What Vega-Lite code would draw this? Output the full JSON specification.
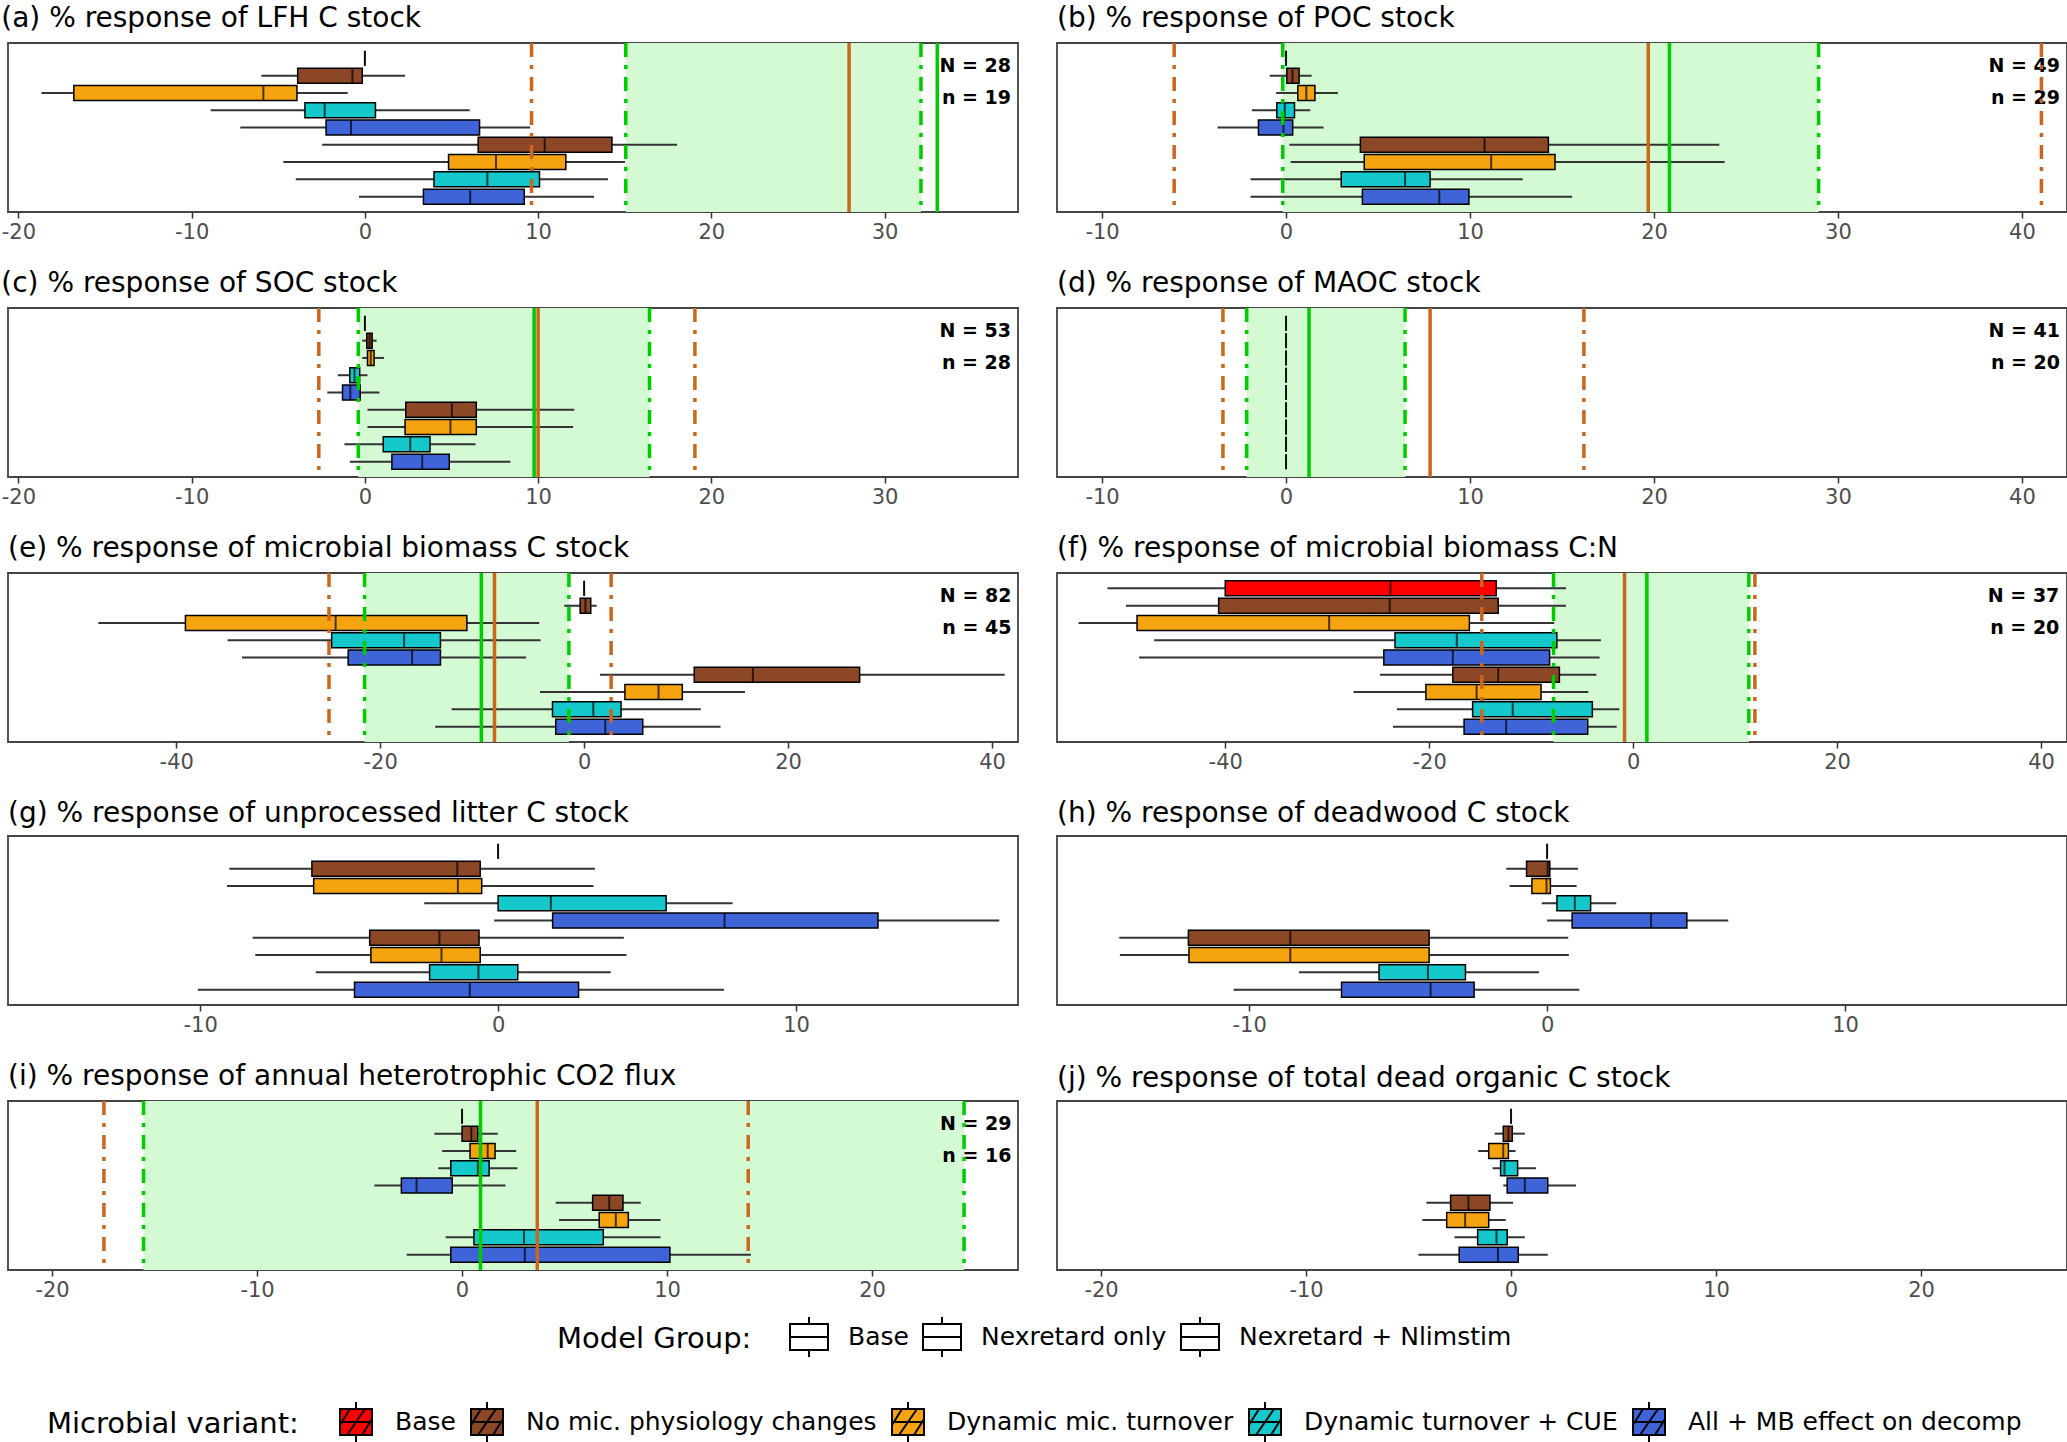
{
"$schema": "https://vega.github.io/schema/vega-lite/v6.json",
"padding": {"left": 0, "top": 4, "right": 0, "bottom": 0},
"columns": 2,
"spacing": {"column": 37, "row": 26},
"datasets": {
"boxes": [
{"panel":"a","row":1,"variant":"Base","group":"Base","low":0,"q1":0,"median":0,"q3":0,"high":0},
{"panel":"a","row":2,"variant":"No mic. physiology changes","group":"Nexretard only","low":-5.97,"q1":-3.88,"median":-0.72,"q3":-0.15,"high":2.32},
{"panel":"a","row":3,"variant":"Dynamic mic. turnover","group":"Nexretard only","low":-18.67,"q1":-16.8,"median":-5.86,"q3":-3.92,"high":-0.99},
{"panel":"a","row":4,"variant":"Dynamic turnover + CUE","group":"Nexretard only","low":-8.9,"q1":-3.46,"median":-2.32,"q3":0.61,"high":6.05},
{"panel":"a","row":5,"variant":"All + MB effect on decomp","group":"Nexretard only","low":-7.19,"q1":-2.24,"median":-0.8,"q3":6.62,"high":9.54},
{"panel":"a","row":6,"variant":"No mic. physiology changes","group":"Nexretard + Nlimstim","low":-2.47,"q1":6.54,"median":10.38,"q3":14.26,"high":18.02},
{"panel":"a","row":7,"variant":"Dynamic mic. turnover","group":"Nexretard + Nlimstim","low":-4.71,"q1":4.83,"median":7.57,"q3":11.6,"high":15.02},
{"panel":"a","row":8,"variant":"Dynamic turnover + CUE","group":"Nexretard + Nlimstim","low":-3.99,"q1":3.99,"median":7.07,"q3":10.08,"high":14.03},
{"panel":"a","row":9,"variant":"All + MB effect on decomp","group":"Nexretard + Nlimstim","low":-0.34,"q1":3.38,"median":6.08,"q3":9.2,"high":13.23},
{"panel":"b","row":1,"variant":"Base","group":"Base","low":0,"q1":0,"median":0,"q3":0,"high":0},
{"panel":"b","row":2,"variant":"No mic. physiology changes","group":"Nexretard only","low":-0.89,"q1":0.04,"median":0.35,"q3":0.71,"high":1.39},
{"panel":"b","row":3,"variant":"Dynamic mic. turnover","group":"Nexretard only","low":-0.54,"q1":0.64,"median":1.1,"q3":1.57,"high":2.82},
{"panel":"b","row":4,"variant":"Dynamic turnover + CUE","group":"Nexretard only","low":-1.86,"q1":-0.5,"median":-0.07,"q3":0.46,"high":1.32},
{"panel":"b","row":5,"variant":"All + MB effect on decomp","group":"Nexretard only","low":-3.72,"q1":-1.5,"median":-0.14,"q3":0.36,"high":2.04},
{"panel":"b","row":6,"variant":"No mic. physiology changes","group":"Nexretard + Nlimstim","low":0.18,"q1":4.04,"median":10.79,"q3":14.26,"high":23.55},
{"panel":"b","row":7,"variant":"Dynamic mic. turnover","group":"Nexretard + Nlimstim","low":0.25,"q1":4.25,"median":11.15,"q3":14.62,"high":23.84},
{"panel":"b","row":8,"variant":"Dynamic turnover + CUE","group":"Nexretard + Nlimstim","low":-1.93,"q1":3.0,"median":6.47,"q3":7.83,"high":12.87},
{"panel":"b","row":9,"variant":"All + MB effect on decomp","group":"Nexretard + Nlimstim","low":-1.93,"q1":4.15,"median":8.33,"q3":9.94,"high":15.55},
{"panel":"c","row":1,"variant":"Base","group":"Base","low":0,"q1":0,"median":0,"q3":0,"high":0},
{"panel":"c","row":2,"variant":"No mic. physiology changes","group":"Nexretard only","low":-0.15,"q1":0.11,"median":0.27,"q3":0.42,"high":0.68},
{"panel":"c","row":3,"variant":"Dynamic mic. turnover","group":"Nexretard only","low":-0.15,"q1":0.15,"median":0.34,"q3":0.53,"high":1.1},
{"panel":"c","row":4,"variant":"Dynamic turnover + CUE","group":"Nexretard only","low":-1.56,"q1":-0.87,"median":-0.6,"q3":-0.3,"high":0.15},
{"panel":"c","row":5,"variant":"All + MB effect on decomp","group":"Nexretard only","low":-2.17,"q1":-1.29,"median":-0.84,"q3":-0.27,"high":0.84},
{"panel":"c","row":6,"variant":"No mic. physiology changes","group":"Nexretard + Nlimstim","low":0.15,"q1":2.36,"median":5.02,"q3":6.43,"high":12.09},
{"panel":"c","row":7,"variant":"Dynamic mic. turnover","group":"Nexretard + Nlimstim","low":0.15,"q1":2.32,"median":4.94,"q3":6.43,"high":12.02},
{"panel":"c","row":8,"variant":"Dynamic turnover + CUE","group":"Nexretard + Nlimstim","low":-1.18,"q1":1.06,"median":2.62,"q3":3.76,"high":6.39},
{"panel":"c","row":9,"variant":"All + MB effect on decomp","group":"Nexretard + Nlimstim","low":-0.87,"q1":1.56,"median":3.31,"q3":4.87,"high":8.4},
{"panel":"d","row":1,"variant":"Base","group":"Base","low":0,"q1":0,"median":0,"q3":0,"high":0},
{"panel":"d","row":2,"variant":"No mic. physiology changes","group":"Nexretard only","low":0,"q1":0,"median":0,"q3":0,"high":0},
{"panel":"d","row":3,"variant":"Dynamic mic. turnover","group":"Nexretard only","low":0,"q1":0,"median":0,"q3":0,"high":0},
{"panel":"d","row":4,"variant":"Dynamic turnover + CUE","group":"Nexretard only","low":0,"q1":0,"median":0,"q3":0,"high":0},
{"panel":"d","row":5,"variant":"All + MB effect on decomp","group":"Nexretard only","low":0,"q1":0,"median":0,"q3":0,"high":0.05},
{"panel":"d","row":6,"variant":"No mic. physiology changes","group":"Nexretard + Nlimstim","low":0,"q1":0,"median":0,"q3":0,"high":0.05},
{"panel":"d","row":7,"variant":"Dynamic mic. turnover","group":"Nexretard + Nlimstim","low":0,"q1":0,"median":0,"q3":0,"high":0.05},
{"panel":"d","row":8,"variant":"Dynamic turnover + CUE","group":"Nexretard + Nlimstim","low":0,"q1":0,"median":0,"q3":0,"high":0},
{"panel":"d","row":9,"variant":"All + MB effect on decomp","group":"Nexretard + Nlimstim","low":0,"q1":0,"median":0,"q3":0,"high":0},
{"panel":"e","row":1,"variant":"Base","group":"Base","low":0,"q1":0,"median":0,"q3":0,"high":0},
{"panel":"e","row":2,"variant":"No mic. physiology changes","group":"Nexretard only","low":-1.94,"q1":-0.39,"median":0.13,"q3":0.65,"high":1.23},
{"panel":"e","row":3,"variant":"Dynamic mic. turnover","group":"Nexretard only","low":-47.64,"q1":-39.1,"median":-24.37,"q3":-11.5,"high":-4.4},
{"panel":"e","row":4,"variant":"Dynamic turnover + CUE","group":"Nexretard only","low":-34.97,"q1":-24.76,"median":-17.65,"q3":-14.09,"high":-4.27},
{"panel":"e","row":5,"variant":"All + MB effect on decomp","group":"Nexretard only","low":-33.55,"q1":-23.14,"median":-16.87,"q3":-14.09,"high":-5.69},
{"panel":"e","row":6,"variant":"No mic. physiology changes","group":"Nexretard + Nlimstim","low":1.55,"q1":10.8,"median":16.55,"q3":27.02,"high":41.24},
{"panel":"e","row":7,"variant":"Dynamic mic. turnover","group":"Nexretard + Nlimstim","low":-4.33,"q1":4.0,"median":7.3,"q3":9.63,"high":15.77},
{"panel":"e","row":8,"variant":"Dynamic turnover + CUE","group":"Nexretard + Nlimstim","low":-12.99,"q1":-3.1,"median":0.9,"q3":3.62,"high":11.44},
{"panel":"e","row":9,"variant":"All + MB effect on decomp","group":"Nexretard + Nlimstim","low":-14.61,"q1":-2.78,"median":2.07,"q3":5.75,"high":13.38},
{"panel":"f","row":1,"variant":"Base","group":"Base","low":-51.55,"q1":-40.0,"median":-23.8,"q3":-13.42,"high":-6.58},
{"panel":"f","row":2,"variant":"No mic. physiology changes","group":"Nexretard only","low":-49.74,"q1":-40.65,"median":-23.87,"q3":-13.23,"high":-6.58},
{"panel":"f","row":3,"variant":"Dynamic mic. turnover","group":"Nexretard only","low":-54.39,"q1":-48.65,"median":-29.81,"q3":-16.06,"high":-7.74},
{"panel":"f","row":4,"variant":"Dynamic turnover + CUE","group":"Nexretard only","low":-46.97,"q1":-23.35,"median":-17.29,"q3":-7.48,"high":-3.16},
{"panel":"f","row":5,"variant":"All + MB effect on decomp","group":"Nexretard only","low":-48.45,"q1":-24.45,"median":-17.68,"q3":-8.19,"high":-3.29},
{"panel":"f","row":6,"variant":"No mic. physiology changes","group":"Nexretard + Nlimstim","low":-24.84,"q1":-17.68,"median":-13.23,"q3":-7.23,"high":-3.61},
{"panel":"f","row":7,"variant":"Dynamic mic. turnover","group":"Nexretard + Nlimstim","low":-27.42,"q1":-20.32,"median":-15.35,"q3":-9.03,"high":-4.39},
{"panel":"f","row":8,"variant":"Dynamic turnover + CUE","group":"Nexretard + Nlimstim","low":-23.16,"q1":-15.74,"median":-11.81,"q3":-4.0,"high":-1.35},
{"panel":"f","row":9,"variant":"All + MB effect on decomp","group":"Nexretard + Nlimstim","low":-23.55,"q1":-16.58,"median":-12.45,"q3":-4.45,"high":-1.61},
{"panel":"g","row":1,"variant":"Base","group":"Base","low":0,"q1":0,"median":0,"q3":0,"high":0},
{"panel":"g","row":2,"variant":"No mic. physiology changes","group":"Nexretard only","low":-9.02,"q1":-6.25,"median":-1.37,"q3":-0.6,"high":3.25},
{"panel":"g","row":3,"variant":"Dynamic mic. turnover","group":"Nexretard only","low":-9.1,"q1":-6.19,"median":-1.35,"q3":-0.55,"high":3.2},
{"panel":"g","row":4,"variant":"Dynamic turnover + CUE","group":"Nexretard only","low":-2.48,"q1":0,"median":1.77,"q3":5.64,"high":7.87},
{"panel":"g","row":5,"variant":"All + MB effect on decomp","group":"Nexretard only","low":-0.13,"q1":1.83,"median":7.6,"q3":12.75,"high":16.82},
{"panel":"g","row":6,"variant":"No mic. physiology changes","group":"Nexretard + Nlimstim","low":-8.24,"q1":-4.31,"median":-1.97,"q3":-0.64,"high":4.22},
{"panel":"g","row":7,"variant":"Dynamic mic. turnover","group":"Nexretard + Nlimstim","low":-8.15,"q1":-4.27,"median":-1.9,"q3":-0.6,"high":4.31},
{"panel":"g","row":8,"variant":"Dynamic turnover + CUE","group":"Nexretard + Nlimstim","low":-6.12,"q1":-2.3,"median":-0.66,"q3":0.66,"high":3.78},
{"panel":"g","row":9,"variant":"All + MB effect on decomp","group":"Nexretard + Nlimstim","low":-10.08,"q1":-4.82,"median":-0.95,"q3":2.7,"high":7.58},
{"panel":"h","row":1,"variant":"Base","group":"Base","low":0,"q1":0,"median":0,"q3":0,"high":0},
{"panel":"h","row":2,"variant":"No mic. physiology changes","group":"Nexretard only","low":-1.37,"q1":-0.69,"median":0.02,"q3":0.09,"high":1.04},
{"panel":"h","row":3,"variant":"Dynamic mic. turnover","group":"Nexretard only","low":-1.26,"q1":-0.51,"median":-0.02,"q3":0.11,"high":0.99},
{"panel":"h","row":4,"variant":"Dynamic turnover + CUE","group":"Nexretard only","low":-0.18,"q1":0.33,"median":0.93,"q3":1.46,"high":2.32},
{"panel":"h","row":5,"variant":"All + MB effect on decomp","group":"Nexretard only","low":0,"q1":0.84,"median":3.49,"q3":4.69,"high":6.08},
{"panel":"h","row":6,"variant":"No mic. physiology changes","group":"Nexretard + Nlimstim","low":-14.36,"q1":-12.04,"median":-8.62,"q3":-3.96,"high":0.71},
{"panel":"h","row":7,"variant":"Dynamic mic. turnover","group":"Nexretard + Nlimstim","low":-14.34,"q1":-12.02,"median":-8.62,"q3":-3.96,"high":0.73},
{"panel":"h","row":8,"variant":"Dynamic turnover + CUE","group":"Nexretard + Nlimstim","low":-8.33,"q1":-5.64,"median":-4.0,"q3":-2.74,"high":-0.27},
{"panel":"h","row":9,"variant":"All + MB effect on decomp","group":"Nexretard + Nlimstim","low":-10.52,"q1":-6.9,"median":-3.91,"q3":-2.45,"high":1.08},
{"panel":"i","row":1,"variant":"Base","group":"Base","low":0,"q1":0,"median":0,"q3":0,"high":0},
{"panel":"i","row":2,"variant":"No mic. physiology changes","group":"Nexretard only","low":-1.35,"q1":0,"median":0.45,"q3":0.77,"high":1.74},
{"panel":"i","row":3,"variant":"Dynamic mic. turnover","group":"Nexretard only","low":-0.97,"q1":0.39,"median":1.25,"q3":1.61,"high":2.64},
{"panel":"i","row":4,"variant":"Dynamic turnover + CUE","group":"Nexretard only","low":-1.16,"q1":-0.55,"median":0.77,"q3":1.32,"high":2.7},
{"panel":"i","row":5,"variant":"All + MB effect on decomp","group":"Nexretard only","low":-4.28,"q1":-2.96,"median":-2.22,"q3":-0.48,"high":2.12},
{"panel":"i","row":6,"variant":"No mic. physiology changes","group":"Nexretard + Nlimstim","low":4.57,"q1":6.37,"median":7.18,"q3":7.85,"high":8.72},
{"panel":"i","row":7,"variant":"Dynamic mic. turnover","group":"Nexretard + Nlimstim","low":4.73,"q1":6.69,"median":7.5,"q3":8.11,"high":9.68},
{"panel":"i","row":8,"variant":"Dynamic turnover + CUE","group":"Nexretard + Nlimstim","low":-0.8,"q1":0.58,"median":3.02,"q3":6.89,"high":9.68},
{"panel":"i","row":9,"variant":"All + MB effect on decomp","group":"Nexretard + Nlimstim","low":-2.7,"q1":-0.55,"median":3.06,"q3":10.14,"high":14.09},
{"panel":"j","row":1,"variant":"Base","group":"Base","low":0,"q1":0,"median":0,"q3":0,"high":0},
{"panel":"j","row":2,"variant":"No mic. physiology changes","group":"Nexretard only","low":-0.8,"q1":-0.38,"median":-0.13,"q3":0.06,"high":0.67},
{"panel":"j","row":3,"variant":"Dynamic mic. turnover","group":"Nexretard only","low":-1.6,"q1":-1.09,"median":-0.38,"q3":-0.13,"high":0.22},
{"panel":"j","row":4,"variant":"Dynamic turnover + CUE","group":"Nexretard only","low":-0.9,"q1":-0.51,"median":-0.32,"q3":0.32,"high":1.22},
{"panel":"j","row":5,"variant":"All + MB effect on decomp","group":"Nexretard only","low":-0.38,"q1":-0.19,"median":0.67,"q3":1.79,"high":3.17},
{"panel":"j","row":6,"variant":"No mic. physiology changes","group":"Nexretard + Nlimstim","low":-4.13,"q1":-2.95,"median":-2.08,"q3":-1.03,"high":0.1},
{"panel":"j","row":7,"variant":"Dynamic mic. turnover","group":"Nexretard + Nlimstim","low":-4.33,"q1":-3.14,"median":-2.24,"q3":-1.09,"high":-0.26},
{"panel":"j","row":8,"variant":"Dynamic turnover + CUE","group":"Nexretard + Nlimstim","low":-2.76,"q1":-1.63,"median":-0.71,"q3":-0.19,"high":0.67},
{"panel":"j","row":9,"variant":"All + MB effect on decomp","group":"Nexretard + Nlimstim","low":-4.52,"q1":-2.53,"median":-0.64,"q3":0.35,"high":1.79}
],
"bands": [
{"panel":"a","low":15.06,"high":32.1},
{"panel":"b","low":-0.18,"high":28.95},
{"panel":"c","low":-0.38,"high":16.43},
{"panel":"d","low":-2.14,"high":6.47},
{"panel":"e","low":-21.53,"high":-1.49},
{"panel":"f","low":-7.81,"high":11.35},
{"panel":"i","low":-15.54,"high":24.49}
],
"lines": [
{"panel":"a","kind":"obs_mean","value":27.95},
{"panel":"a","kind":"obs_ci","value":9.62},
{"panel":"a","kind":"mod_mean","value":33.04},
{"panel":"a","kind":"mod_ci","value":15.06},
{"panel":"a","kind":"mod_ci","value":32.1},
{"panel":"b","kind":"obs_mean","value":19.69},
{"panel":"b","kind":"obs_ci","value":-6.08},
{"panel":"b","kind":"obs_ci","value":41.06},
{"panel":"b","kind":"mod_mean","value":20.84},
{"panel":"b","kind":"mod_ci","value":-0.18},
{"panel":"b","kind":"mod_ci","value":28.95},
{"panel":"c","kind":"mod_mean","value":9.77},
{"panel":"c","kind":"obs_mean","value":10.0},
{"panel":"c","kind":"obs_ci","value":-2.66},
{"panel":"c","kind":"obs_ci","value":19.05},
{"panel":"c","kind":"mod_ci","value":-0.38},
{"panel":"c","kind":"mod_ci","value":16.43},
{"panel":"d","kind":"obs_mean","value":7.83},
{"panel":"d","kind":"obs_ci","value":-3.43},
{"panel":"d","kind":"obs_ci","value":16.19},
{"panel":"d","kind":"mod_mean","value":1.25},
{"panel":"d","kind":"mod_ci","value":-2.14},
{"panel":"d","kind":"mod_ci","value":6.47},
{"panel":"e","kind":"obs_mean","value":-8.79},
{"panel":"e","kind":"obs_ci","value":-25.02},
{"panel":"e","kind":"obs_ci","value":2.65},
{"panel":"e","kind":"mod_mean","value":-10.08},
{"panel":"e","kind":"mod_ci","value":-21.53},
{"panel":"e","kind":"mod_ci","value":-1.49},
{"panel":"f","kind":"obs_mean","value":-0.84},
{"panel":"f","kind":"obs_ci","value":-14.84},
{"panel":"f","kind":"obs_ci","value":11.94},
{"panel":"f","kind":"mod_mean","value":1.35},
{"panel":"f","kind":"mod_ci","value":-7.81},
{"panel":"f","kind":"mod_ci","value":11.35},
{"panel":"i","kind":"obs_mean","value":3.67},
{"panel":"i","kind":"obs_ci","value":-17.47},
{"panel":"i","kind":"obs_ci","value":13.96},
{"panel":"i","kind":"mod_mean","value":0.9},
{"panel":"i","kind":"mod_ci","value":-15.54},
{"panel":"i","kind":"mod_ci","value":24.49}
],
"labels": [
{"panel":"a","label":"N = 28","x":37.3,"y":1.43},
{"panel":"a","label":"n = 19","x":37.3,"y":3.32},
{"panel":"b","label":"N = 49","x":42.07,"y":1.43},
{"panel":"b","label":"n = 29","x":42.07,"y":3.32},
{"panel":"c","label":"N = 53","x":37.3,"y":1.43},
{"panel":"c","label":"n = 28","x":37.3,"y":3.32},
{"panel":"d","label":"N = 41","x":42.07,"y":1.43},
{"panel":"d","label":"n = 20","x":42.07,"y":3.32},
{"panel":"e","label":"N = 82","x":41.9,"y":1.43},
{"panel":"e","label":"n = 45","x":41.9,"y":3.32},
{"panel":"f","label":"N = 37","x":41.8,"y":1.43},
{"panel":"f","label":"n = 20","x":41.8,"y":3.32},
{"panel":"i","label":"N = 29","x":26.8,"y":1.43},
{"panel":"i","label":"n = 16","x":26.8,"y":3.32}
]
},
"concat": [
{"title":"(a) % response of LFH C stock","width":1010,"height":169,"layer":[
{"data":{"name":"boxes"},"transform":[{"filter":"datum.panel==='a'"}],"mark":{"type":"bar","clip":true,"orient":"horizontal","size":15,"stroke":"black","strokeWidth":2},"encoding":{"x":{"field":"q1","type":"quantitative","title":null},"x2":{"field":"q3"},"y":{"datum":60,"type":"quantitative","axis":null},"color":{"field":"group","type":"nominal","scale":{"domain":["Base","Nexretard only","Nexretard + Nlimstim"],"range":["#FFFFFF","#FFFFFF","#FFFFFF"]},"legend":{"title":"Model Group:","symbolType":"M-0.95,-0.65H0.95V0.65H-0.95Z M0,-0.65V-1 M0,0.65V1 M-0.95,0H0.95","symbolStrokeColor":"black","symbolStrokeWidth":2,"symbolSize":1600,"symbolOpacity":1}}}},
{"data":{"name":"bands"},"transform":[{"filter":"datum.panel==='a'"}],"mark":{"type":"rect","color":"#D4FAD4"},"encoding":{"x":{"field":"low","type":"quantitative","title":null},"x2":{"field":"high"}}},
{"data":{"name":"boxes"},"transform":[{"filter":"datum.panel==='a'"}],"mark":{"type":"rule","color":"#333333","strokeWidth":2},"encoding":{"x":{"field":"low","type":"quantitative","title":null,"scale":{"domain":[-20.6,37.7],"nice":false,"zero":false},"axis":{"values":[-20,-10,0,10,20,30],"labelExpr":"'' + datum.value"}},"x2":{"field":"high"},"y":{"field":"row","type":"quantitative","axis":null,"scale":{"domain":[0.4,9.6],"reverse":true,"nice":false,"zero":false}}}},
{"data":{"name":"boxes"},"transform":[{"filter":"datum.panel==='a'"}],"mark":{"type":"bar","orient":"horizontal","size":15,"stroke":"black","strokeWidth":1.5},"encoding":{"x":{"field":"q1","type":"quantitative","title":null},"x2":{"field":"q3"},"y":{"field":"row","type":"quantitative","axis":null},"fill":{"field":"variant","type":"nominal","scale":{"domain":["Base","No mic. physiology changes","Dynamic mic. turnover","Dynamic turnover + CUE","All + MB effect on decomp"],"range":["#FF0000","#8B4726","#F5A30F","#14C8CC","#3F64D8"]},"legend":{"title":"Microbial variant:","symbolType":"M-0.8,-0.65H0.8V0.65H-0.8Z M0,-0.65V-1 M0,0.65V1 M-0.8,0H0.8 M-0.8,0.15L-0.3,-0.65 M-0.45,0.65L0.45,-0.65 M0.3,0.65L0.8,-0.15","symbolStrokeColor":"black","symbolStrokeWidth":2,"symbolSize":1600}}}},
{"data":{"name":"boxes"},"transform":[{"filter":"datum.panel==='a'"}],"mark":{"type":"tick","orient":"vertical","size":15,"thickness":2,"color":"black"},"encoding":{"x":{"field":"median","type":"quantitative","title":null},"y":{"field":"row","type":"quantitative","axis":null}}},
{"data":{"name":"labels"},"transform":[{"filter":"datum.panel==='a'"}],"mark":{"type":"text","align":"right","baseline":"middle","fontSize":19,"fontWeight":"bold","font":"DejaVu Sans","color":"black"},"encoding":{"x":{"field":"x","type":"quantitative","title":null},"y":{"field":"y","type":"quantitative","axis":null},"text":{"field":"label"}}},
{"data":{"name":"lines"},"transform":[{"filter":"datum.panel==='a'"}],"mark":{"type":"rule","strokeWidth":3.5},"encoding":{"x":{"field":"value","type":"quantitative","title":null},"stroke":{"field":"kind","type":"nominal","scale":{"domain":["obs_mean","obs_ci","mod_mean","mod_ci"],"range":["#CD661D","#CD661D","#00CD00","#00CD00"]},"legend":null},"strokeDash":{"field":"kind","type":"nominal","scale":{"domain":["obs_mean","obs_ci","mod_mean","mod_ci"],"range":[[1,0],[14,8,4,8],[1,0],[14,8,4,8]]},"legend":null}}}
]},
{"title":"(b) % response of POC stock","width":1010,"height":169,"layer":[
{"data":{"name":"bands"},"transform":[{"filter":"datum.panel==='b'"}],"mark":{"type":"rect","color":"#D4FAD4"},"encoding":{"x":{"field":"low","type":"quantitative","title":null},"x2":{"field":"high"}}},
{"data":{"name":"boxes"},"transform":[{"filter":"datum.panel==='b'"}],"mark":{"type":"rule","color":"#333333","strokeWidth":2},"encoding":{"x":{"field":"low","type":"quantitative","title":null,"scale":{"domain":[-12.45,42.45],"nice":false,"zero":false},"axis":{"values":[-10,0,10,20,30,40],"labelExpr":"'' + datum.value"}},"x2":{"field":"high"},"y":{"field":"row","type":"quantitative","axis":null,"scale":{"domain":[0.4,9.6],"reverse":true,"nice":false,"zero":false}}}},
{"data":{"name":"boxes"},"transform":[{"filter":"datum.panel==='b'"}],"mark":{"type":"bar","orient":"horizontal","size":15,"stroke":"black","strokeWidth":1.5},"encoding":{"x":{"field":"q1","type":"quantitative","title":null},"x2":{"field":"q3"},"y":{"field":"row","type":"quantitative","axis":null},"fill":{"field":"variant","type":"nominal","scale":{"domain":["Base","No mic. physiology changes","Dynamic mic. turnover","Dynamic turnover + CUE","All + MB effect on decomp"],"range":["#FF0000","#8B4726","#F5A30F","#14C8CC","#3F64D8"]}}}},
{"data":{"name":"boxes"},"transform":[{"filter":"datum.panel==='b'"}],"mark":{"type":"tick","orient":"vertical","size":15,"thickness":2,"color":"black"},"encoding":{"x":{"field":"median","type":"quantitative","title":null},"y":{"field":"row","type":"quantitative","axis":null}}},
{"data":{"name":"labels"},"transform":[{"filter":"datum.panel==='b'"}],"mark":{"type":"text","align":"right","baseline":"middle","fontSize":19,"fontWeight":"bold","font":"DejaVu Sans","color":"black"},"encoding":{"x":{"field":"x","type":"quantitative","title":null},"y":{"field":"y","type":"quantitative","axis":null},"text":{"field":"label"}}},
{"data":{"name":"lines"},"transform":[{"filter":"datum.panel==='b'"}],"mark":{"type":"rule","strokeWidth":3.5},"encoding":{"x":{"field":"value","type":"quantitative","title":null},"stroke":{"field":"kind","type":"nominal","scale":{"domain":["obs_mean","obs_ci","mod_mean","mod_ci"],"range":["#CD661D","#CD661D","#00CD00","#00CD00"]},"legend":null},"strokeDash":{"field":"kind","type":"nominal","scale":{"domain":["obs_mean","obs_ci","mod_mean","mod_ci"],"range":[[1,0],[14,8,4,8],[1,0],[14,8,4,8]]},"legend":null}}}
]},
{"title":"(c) % response of SOC stock","width":1010,"height":169,"layer":[
{"data":{"name":"bands"},"transform":[{"filter":"datum.panel==='c'"}],"mark":{"type":"rect","color":"#D4FAD4"},"encoding":{"x":{"field":"low","type":"quantitative","title":null},"x2":{"field":"high"}}},
{"data":{"name":"boxes"},"transform":[{"filter":"datum.panel==='c'"}],"mark":{"type":"rule","color":"#333333","strokeWidth":2},"encoding":{"x":{"field":"low","type":"quantitative","title":null,"scale":{"domain":[-20.6,37.7],"nice":false,"zero":false},"axis":{"values":[-20,-10,0,10,20,30],"labelExpr":"'' + datum.value"}},"x2":{"field":"high"},"y":{"field":"row","type":"quantitative","axis":null,"scale":{"domain":[0.4,9.6],"reverse":true,"nice":false,"zero":false}}}},
{"data":{"name":"boxes"},"transform":[{"filter":"datum.panel==='c'"}],"mark":{"type":"bar","orient":"horizontal","size":15,"stroke":"black","strokeWidth":1.5},"encoding":{"x":{"field":"q1","type":"quantitative","title":null},"x2":{"field":"q3"},"y":{"field":"row","type":"quantitative","axis":null},"fill":{"field":"variant","type":"nominal","scale":{"domain":["Base","No mic. physiology changes","Dynamic mic. turnover","Dynamic turnover + CUE","All + MB effect on decomp"],"range":["#FF0000","#8B4726","#F5A30F","#14C8CC","#3F64D8"]}}}},
{"data":{"name":"boxes"},"transform":[{"filter":"datum.panel==='c'"}],"mark":{"type":"tick","orient":"vertical","size":15,"thickness":2,"color":"black"},"encoding":{"x":{"field":"median","type":"quantitative","title":null},"y":{"field":"row","type":"quantitative","axis":null}}},
{"data":{"name":"labels"},"transform":[{"filter":"datum.panel==='c'"}],"mark":{"type":"text","align":"right","baseline":"middle","fontSize":19,"fontWeight":"bold","font":"DejaVu Sans","color":"black"},"encoding":{"x":{"field":"x","type":"quantitative","title":null},"y":{"field":"y","type":"quantitative","axis":null},"text":{"field":"label"}}},
{"data":{"name":"lines"},"transform":[{"filter":"datum.panel==='c'"}],"mark":{"type":"rule","strokeWidth":3.5},"encoding":{"x":{"field":"value","type":"quantitative","title":null},"stroke":{"field":"kind","type":"nominal","scale":{"domain":["obs_mean","obs_ci","mod_mean","mod_ci"],"range":["#CD661D","#CD661D","#00CD00","#00CD00"]},"legend":null},"strokeDash":{"field":"kind","type":"nominal","scale":{"domain":["obs_mean","obs_ci","mod_mean","mod_ci"],"range":[[1,0],[14,8,4,8],[1,0],[14,8,4,8]]},"legend":null}}}
]},
{"title":"(d) % response of MAOC stock","width":1010,"height":169,"layer":[
{"data":{"name":"bands"},"transform":[{"filter":"datum.panel==='d'"}],"mark":{"type":"rect","color":"#D4FAD4"},"encoding":{"x":{"field":"low","type":"quantitative","title":null},"x2":{"field":"high"}}},
{"data":{"name":"boxes"},"transform":[{"filter":"datum.panel==='d'"}],"mark":{"type":"rule","color":"#333333","strokeWidth":2},"encoding":{"x":{"field":"low","type":"quantitative","title":null,"scale":{"domain":[-12.45,42.45],"nice":false,"zero":false},"axis":{"values":[-10,0,10,20,30,40],"labelExpr":"'' + datum.value"}},"x2":{"field":"high"},"y":{"field":"row","type":"quantitative","axis":null,"scale":{"domain":[0.4,9.6],"reverse":true,"nice":false,"zero":false}}}},
{"data":{"name":"boxes"},"transform":[{"filter":"datum.panel==='d'"}],"mark":{"type":"bar","orient":"horizontal","size":15,"stroke":"black","strokeWidth":1.5},"encoding":{"x":{"field":"q1","type":"quantitative","title":null},"x2":{"field":"q3"},"y":{"field":"row","type":"quantitative","axis":null},"fill":{"field":"variant","type":"nominal","scale":{"domain":["Base","No mic. physiology changes","Dynamic mic. turnover","Dynamic turnover + CUE","All + MB effect on decomp"],"range":["#FF0000","#8B4726","#F5A30F","#14C8CC","#3F64D8"]}}}},
{"data":{"name":"boxes"},"transform":[{"filter":"datum.panel==='d'"}],"mark":{"type":"tick","orient":"vertical","size":15,"thickness":2,"color":"black"},"encoding":{"x":{"field":"median","type":"quantitative","title":null},"y":{"field":"row","type":"quantitative","axis":null}}},
{"data":{"name":"labels"},"transform":[{"filter":"datum.panel==='d'"}],"mark":{"type":"text","align":"right","baseline":"middle","fontSize":19,"fontWeight":"bold","font":"DejaVu Sans","color":"black"},"encoding":{"x":{"field":"x","type":"quantitative","title":null},"y":{"field":"y","type":"quantitative","axis":null},"text":{"field":"label"}}},
{"data":{"name":"lines"},"transform":[{"filter":"datum.panel==='d'"}],"mark":{"type":"rule","strokeWidth":3.5},"encoding":{"x":{"field":"value","type":"quantitative","title":null},"stroke":{"field":"kind","type":"nominal","scale":{"domain":["obs_mean","obs_ci","mod_mean","mod_ci"],"range":["#CD661D","#CD661D","#00CD00","#00CD00"]},"legend":null},"strokeDash":{"field":"kind","type":"nominal","scale":{"domain":["obs_mean","obs_ci","mod_mean","mod_ci"],"range":[[1,0],[14,8,4,8],[1,0],[14,8,4,8]]},"legend":null}}}
]},
{"title":"(e) % response of microbial biomass C stock","width":1010,"height":169,"layer":[
{"data":{"name":"bands"},"transform":[{"filter":"datum.panel==='e'"}],"mark":{"type":"rect","color":"#D4FAD4"},"encoding":{"x":{"field":"low","type":"quantitative","title":null},"x2":{"field":"high"}}},
{"data":{"name":"boxes"},"transform":[{"filter":"datum.panel==='e'"}],"mark":{"type":"rule","color":"#333333","strokeWidth":2},"encoding":{"x":{"field":"low","type":"quantitative","title":null,"scale":{"domain":[-56.5,42.55],"nice":false,"zero":false},"axis":{"values":[-40,-20,0,20,40],"labelExpr":"'' + datum.value"}},"x2":{"field":"high"},"y":{"field":"row","type":"quantitative","axis":null,"scale":{"domain":[0.4,9.6],"reverse":true,"nice":false,"zero":false}}}},
{"data":{"name":"boxes"},"transform":[{"filter":"datum.panel==='e'"}],"mark":{"type":"bar","orient":"horizontal","size":15,"stroke":"black","strokeWidth":1.5},"encoding":{"x":{"field":"q1","type":"quantitative","title":null},"x2":{"field":"q3"},"y":{"field":"row","type":"quantitative","axis":null},"fill":{"field":"variant","type":"nominal","scale":{"domain":["Base","No mic. physiology changes","Dynamic mic. turnover","Dynamic turnover + CUE","All + MB effect on decomp"],"range":["#FF0000","#8B4726","#F5A30F","#14C8CC","#3F64D8"]}}}},
{"data":{"name":"boxes"},"transform":[{"filter":"datum.panel==='e'"}],"mark":{"type":"tick","orient":"vertical","size":15,"thickness":2,"color":"black"},"encoding":{"x":{"field":"median","type":"quantitative","title":null},"y":{"field":"row","type":"quantitative","axis":null}}},
{"data":{"name":"labels"},"transform":[{"filter":"datum.panel==='e'"}],"mark":{"type":"text","align":"right","baseline":"middle","fontSize":19,"fontWeight":"bold","font":"DejaVu Sans","color":"black"},"encoding":{"x":{"field":"x","type":"quantitative","title":null},"y":{"field":"y","type":"quantitative","axis":null},"text":{"field":"label"}}},
{"data":{"name":"lines"},"transform":[{"filter":"datum.panel==='e'"}],"mark":{"type":"rule","strokeWidth":3.5},"encoding":{"x":{"field":"value","type":"quantitative","title":null},"stroke":{"field":"kind","type":"nominal","scale":{"domain":["obs_mean","obs_ci","mod_mean","mod_ci"],"range":["#CD661D","#CD661D","#00CD00","#00CD00"]},"legend":null},"strokeDash":{"field":"kind","type":"nominal","scale":{"domain":["obs_mean","obs_ci","mod_mean","mod_ci"],"range":[[1,0],[14,8,4,8],[1,0],[14,8,4,8]]},"legend":null}}}
]},
{"title":"(f) % response of microbial biomass C:N","width":1010,"height":169,"layer":[
{"data":{"name":"bands"},"transform":[{"filter":"datum.panel==='f'"}],"mark":{"type":"rect","color":"#D4FAD4"},"encoding":{"x":{"field":"low","type":"quantitative","title":null},"x2":{"field":"high"}}},
{"data":{"name":"boxes"},"transform":[{"filter":"datum.panel==='f'"}],"mark":{"type":"rule","color":"#333333","strokeWidth":2},"encoding":{"x":{"field":"low","type":"quantitative","title":null,"scale":{"domain":[-56.5,42.55],"nice":false,"zero":false},"axis":{"values":[-40,-20,0,20,40],"labelExpr":"'' + datum.value"}},"x2":{"field":"high"},"y":{"field":"row","type":"quantitative","axis":null,"scale":{"domain":[0.4,9.6],"reverse":true,"nice":false,"zero":false}}}},
{"data":{"name":"boxes"},"transform":[{"filter":"datum.panel==='f'"}],"mark":{"type":"bar","orient":"horizontal","size":15,"stroke":"black","strokeWidth":1.5},"encoding":{"x":{"field":"q1","type":"quantitative","title":null},"x2":{"field":"q3"},"y":{"field":"row","type":"quantitative","axis":null},"fill":{"field":"variant","type":"nominal","scale":{"domain":["Base","No mic. physiology changes","Dynamic mic. turnover","Dynamic turnover + CUE","All + MB effect on decomp"],"range":["#FF0000","#8B4726","#F5A30F","#14C8CC","#3F64D8"]}}}},
{"data":{"name":"boxes"},"transform":[{"filter":"datum.panel==='f'"}],"mark":{"type":"tick","orient":"vertical","size":15,"thickness":2,"color":"black"},"encoding":{"x":{"field":"median","type":"quantitative","title":null},"y":{"field":"row","type":"quantitative","axis":null}}},
{"data":{"name":"labels"},"transform":[{"filter":"datum.panel==='f'"}],"mark":{"type":"text","align":"right","baseline":"middle","fontSize":19,"fontWeight":"bold","font":"DejaVu Sans","color":"black"},"encoding":{"x":{"field":"x","type":"quantitative","title":null},"y":{"field":"y","type":"quantitative","axis":null},"text":{"field":"label"}}},
{"data":{"name":"lines"},"transform":[{"filter":"datum.panel==='f'"}],"mark":{"type":"rule","strokeWidth":3.5},"encoding":{"x":{"field":"value","type":"quantitative","title":null},"stroke":{"field":"kind","type":"nominal","scale":{"domain":["obs_mean","obs_ci","mod_mean","mod_ci"],"range":["#CD661D","#CD661D","#00CD00","#00CD00"]},"legend":null},"strokeDash":{"field":"kind","type":"nominal","scale":{"domain":["obs_mean","obs_ci","mod_mean","mod_ci"],"range":[[1,0],[14,8,4,8],[1,0],[14,8,4,8]]},"legend":null}}}
]},
{"title":"(g) % response of unprocessed litter C stock","width":1010,"height":169,"layer":[
{"data":{"name":"boxes"},"transform":[{"filter":"datum.panel==='g'"}],"mark":{"type":"rule","color":"#333333","strokeWidth":2},"encoding":{"x":{"field":"low","type":"quantitative","title":null,"scale":{"domain":[-16.45,17.45],"nice":false,"zero":false},"axis":{"values":[-10,0,10],"labelExpr":"'' + datum.value"}},"x2":{"field":"high"},"y":{"field":"row","type":"quantitative","axis":null,"scale":{"domain":[0.4,9.6],"reverse":true,"nice":false,"zero":false}}}},
{"data":{"name":"boxes"},"transform":[{"filter":"datum.panel==='g'"}],"mark":{"type":"bar","orient":"horizontal","size":15,"stroke":"black","strokeWidth":1.5},"encoding":{"x":{"field":"q1","type":"quantitative","title":null},"x2":{"field":"q3"},"y":{"field":"row","type":"quantitative","axis":null},"fill":{"field":"variant","type":"nominal","scale":{"domain":["Base","No mic. physiology changes","Dynamic mic. turnover","Dynamic turnover + CUE","All + MB effect on decomp"],"range":["#FF0000","#8B4726","#F5A30F","#14C8CC","#3F64D8"]}}}},
{"data":{"name":"boxes"},"transform":[{"filter":"datum.panel==='g'"}],"mark":{"type":"tick","orient":"vertical","size":15,"thickness":2,"color":"black"},"encoding":{"x":{"field":"median","type":"quantitative","title":null},"y":{"field":"row","type":"quantitative","axis":null}}}
]},
{"title":"(h) % response of deadwood C stock","width":1010,"height":169,"layer":[
{"data":{"name":"boxes"},"transform":[{"filter":"datum.panel==='h'"}],"mark":{"type":"rule","color":"#333333","strokeWidth":2},"encoding":{"x":{"field":"low","type":"quantitative","title":null,"scale":{"domain":[-16.45,17.45],"nice":false,"zero":false},"axis":{"values":[-10,0,10],"labelExpr":"'' + datum.value"}},"x2":{"field":"high"},"y":{"field":"row","type":"quantitative","axis":null,"scale":{"domain":[0.4,9.6],"reverse":true,"nice":false,"zero":false}}}},
{"data":{"name":"boxes"},"transform":[{"filter":"datum.panel==='h'"}],"mark":{"type":"bar","orient":"horizontal","size":15,"stroke":"black","strokeWidth":1.5},"encoding":{"x":{"field":"q1","type":"quantitative","title":null},"x2":{"field":"q3"},"y":{"field":"row","type":"quantitative","axis":null},"fill":{"field":"variant","type":"nominal","scale":{"domain":["Base","No mic. physiology changes","Dynamic mic. turnover","Dynamic turnover + CUE","All + MB effect on decomp"],"range":["#FF0000","#8B4726","#F5A30F","#14C8CC","#3F64D8"]}}}},
{"data":{"name":"boxes"},"transform":[{"filter":"datum.panel==='h'"}],"mark":{"type":"tick","orient":"vertical","size":15,"thickness":2,"color":"black"},"encoding":{"x":{"field":"median","type":"quantitative","title":null},"y":{"field":"row","type":"quantitative","axis":null}}}
]},
{"title":"(i) % response of annual heterotrophic CO2 flux","width":1010,"height":169,"layer":[
{"data":{"name":"bands"},"transform":[{"filter":"datum.panel==='i'"}],"mark":{"type":"rect","color":"#D4FAD4"},"encoding":{"x":{"field":"low","type":"quantitative","title":null},"x2":{"field":"high"}}},
{"data":{"name":"boxes"},"transform":[{"filter":"datum.panel==='i'"}],"mark":{"type":"rule","color":"#333333","strokeWidth":2},"encoding":{"x":{"field":"low","type":"quantitative","title":null,"scale":{"domain":[-22.15,27.12],"nice":false,"zero":false},"axis":{"values":[-20,-10,0,10,20],"labelExpr":"'' + datum.value"}},"x2":{"field":"high"},"y":{"field":"row","type":"quantitative","axis":null,"scale":{"domain":[0.4,9.6],"reverse":true,"nice":false,"zero":false}}}},
{"data":{"name":"boxes"},"transform":[{"filter":"datum.panel==='i'"}],"mark":{"type":"bar","orient":"horizontal","size":15,"stroke":"black","strokeWidth":1.5},"encoding":{"x":{"field":"q1","type":"quantitative","title":null},"x2":{"field":"q3"},"y":{"field":"row","type":"quantitative","axis":null},"fill":{"field":"variant","type":"nominal","scale":{"domain":["Base","No mic. physiology changes","Dynamic mic. turnover","Dynamic turnover + CUE","All + MB effect on decomp"],"range":["#FF0000","#8B4726","#F5A30F","#14C8CC","#3F64D8"]}}}},
{"data":{"name":"boxes"},"transform":[{"filter":"datum.panel==='i'"}],"mark":{"type":"tick","orient":"vertical","size":15,"thickness":2,"color":"black"},"encoding":{"x":{"field":"median","type":"quantitative","title":null},"y":{"field":"row","type":"quantitative","axis":null}}},
{"data":{"name":"labels"},"transform":[{"filter":"datum.panel==='i'"}],"mark":{"type":"text","align":"right","baseline":"middle","fontSize":19,"fontWeight":"bold","font":"DejaVu Sans","color":"black"},"encoding":{"x":{"field":"x","type":"quantitative","title":null},"y":{"field":"y","type":"quantitative","axis":null},"text":{"field":"label"}}},
{"data":{"name":"lines"},"transform":[{"filter":"datum.panel==='i'"}],"mark":{"type":"rule","strokeWidth":3.5},"encoding":{"x":{"field":"value","type":"quantitative","title":null},"stroke":{"field":"kind","type":"nominal","scale":{"domain":["obs_mean","obs_ci","mod_mean","mod_ci"],"range":["#CD661D","#CD661D","#00CD00","#00CD00"]},"legend":null},"strokeDash":{"field":"kind","type":"nominal","scale":{"domain":["obs_mean","obs_ci","mod_mean","mod_ci"],"range":[[1,0],[14,8,4,8],[1,0],[14,8,4,8]]},"legend":null}}}
]},
{"title":"(j) % response of total dead organic C stock","width":1010,"height":169,"layer":[
{"data":{"name":"boxes"},"transform":[{"filter":"datum.panel==='j'"}],"mark":{"type":"rule","color":"#333333","strokeWidth":2},"encoding":{"x":{"field":"low","type":"quantitative","title":null,"scale":{"domain":[-22.15,27.12],"nice":false,"zero":false},"axis":{"values":[-20,-10,0,10,20],"labelExpr":"'' + datum.value"}},"x2":{"field":"high"},"y":{"field":"row","type":"quantitative","axis":null,"scale":{"domain":[0.4,9.6],"reverse":true,"nice":false,"zero":false}}}},
{"data":{"name":"boxes"},"transform":[{"filter":"datum.panel==='j'"}],"mark":{"type":"bar","orient":"horizontal","size":15,"stroke":"black","strokeWidth":1.5},"encoding":{"x":{"field":"q1","type":"quantitative","title":null},"x2":{"field":"q3"},"y":{"field":"row","type":"quantitative","axis":null},"fill":{"field":"variant","type":"nominal","scale":{"domain":["Base","No mic. physiology changes","Dynamic mic. turnover","Dynamic turnover + CUE","All + MB effect on decomp"],"range":["#FF0000","#8B4726","#F5A30F","#14C8CC","#3F64D8"]}}}},
{"data":{"name":"boxes"},"transform":[{"filter":"datum.panel==='j'"}],"mark":{"type":"tick","orient":"vertical","size":15,"thickness":2,"color":"black"},"encoding":{"x":{"field":"median","type":"quantitative","title":null},"y":{"field":"row","type":"quantitative","axis":null}}}
]}
],
"resolve": {"scale": {"x": "independent", "y": "independent", "fill": "shared", "color": "shared", "stroke": "shared", "strokeDash": "shared"}, "legend": {"fill": "shared", "color": "shared"}},
"config": {
"font": "DejaVu Sans",
"view": {"stroke": "#444444", "strokeWidth": 1.8},
"axis": {"grid": false, "domain": false, "tickColor": "#333333", "tickSize": 6, "tickWidth": 1.5, "labelFontSize": 21, "labelColor": "#4D4D4D", "labelPadding": 3, "labelFont": "DejaVu Sans", "labelFlush": false},
"title": {"fontSize": 28, "fontWeight": "normal", "anchor": "start", "offset": 8, "color": "black", "font": "DejaVu Sans"},
"legend": {"orient": "bottom", "direction": "horizontal", "titleOrient": "left", "titleFont": "DejaVu Sans", "labelFont": "DejaVu Sans", "titleFontSize": 29, "titleFontWeight": "normal", "titleColor": "black", "labelFontSize": 25, "labelColor": "black", "labelLimit": 600, "titleLimit": 600, "symbolSize": 1600, "symbolStrokeColor": "black", "symbolStrokeWidth": 2, "columnPadding": 10, "labelOffset": 18, "titlePadding": 36, "offset": 15, "titleBaseline": "middle", "titleAnchor": "middle", "layout": {"bottom": {"anchor": "middle", "direction": "vertical", "margin": 40, "center": true}}}
}
}
